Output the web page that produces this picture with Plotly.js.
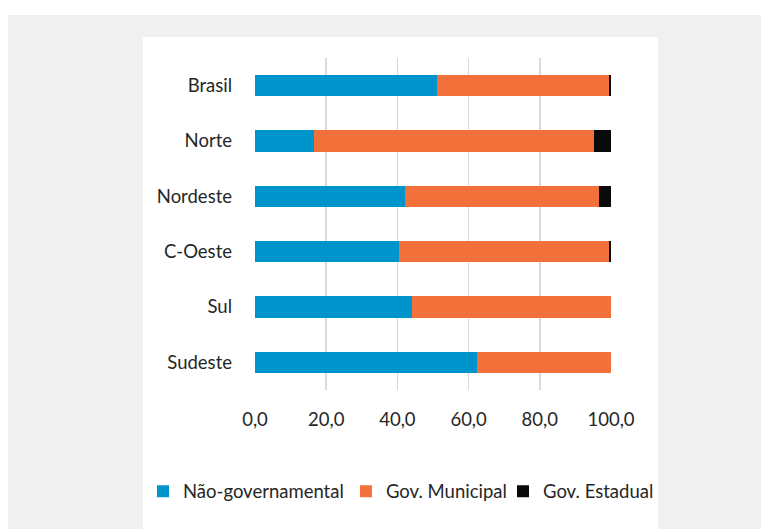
<!DOCTYPE html>
<html>
<head>
<meta charset="utf-8">
<script src="https://cdn.plot.ly/plotly-3.0.1.min.js"></script>
<style>
  html, body { margin: 0; padding: 0; background: #ffffff; width: 761px; height: 531px; overflow: hidden; }
  #bg { position: absolute; left: 8px; top: 15px; width: 753px; height: 514px; background: #f0f0f0; }
  #chart { position: absolute; left: 143px; top: 37px; width: 515px; height: 492px; background: #ffffff; }
</style>
</head>
<body>
<div id="bg"></div>
<div id="chart"></div>
<script>
const categories = ['Brasil', 'Norte', 'Nordeste', 'C-Oeste', 'Sul', 'Sudeste'];
const naoGovernamental = [51.0, 16.6, 42.1, 40.5, 44.0, 62.4];
const govMunicipal     = [48.5, 78.7, 54.5, 59.0, 56.0, 37.6];
const govEstadual      = [0.5, 4.7, 3.4, 0.5, 0.0, 0.0];
const seriesNames = ['Não-governamental', 'Gov. Municipal', 'Gov. Estadual'];
const xTickValues = [0, 20, 40, 60, 80, 100];

const colors = ['#0094cd', '#f2703a', '#0a0a0a'];
const seriesValues = [naoGovernamental, govMunicipal, govEstadual];
const legendIds = ['legend', 'legend2', 'legend3'];

const traces = seriesValues.map((vals, i) => ({
  type: 'bar',
  orientation: 'h',
  name: seriesNames[i],
  legend: legendIds[i],
  y: categories,
  x: vals,
  marker: { color: colors[i], line: { width: 0 } },
  hoverinfo: 'x+y+name'
}));

const fontFamily = 'Lato, "Open Sans", sans-serif';
const textColor = '#262626';
const fontSize = 18.5;

function legendAt(xc) {
  return {
    orientation: 'h',
    xref: 'container',
    x: xc,
    xanchor: 'left',
    yref: 'container',
    y: 0.076,
    yanchor: 'middle',
    bgcolor: 'rgba(0,0,0,0)',
    borderwidth: 0,
    font: { family: fontFamily, size: fontSize, color: textColor },
    itemwidth: 30
  };
}

const layout = {
  width: 515,
  height: 492,
  margin: { l: 112, r: 47, t: 21, b: 139 },
  paper_bgcolor: '#ffffff',
  plot_bgcolor: '#ffffff',
  barmode: 'stack',
  bargap: 0.62,
  separators: ',.',
  font: { family: fontFamily, size: fontSize, color: textColor },
  showlegend: true,
  legend: legendAt(0.0),
  legend2: legendAt(0.394),
  legend3: legendAt(0.699),
  xaxis: {
    range: [0, 100],
    tickvals: xTickValues,
    tickformat: '.1f',
    showgrid: true,
    gridcolor: '#d9d9d9',
    gridwidth: 1.5,
    zeroline: false,
    showline: false,
    ticks: '',
    ticklabelstandoff: 16,
    tickfont: { family: fontFamily, size: fontSize, color: textColor },
    fixedrange: true
  },
  yaxis: {
    type: 'category',
    autorange: 'reversed',
    showgrid: false,
    zeroline: false,
    showline: false,
    ticks: '',
    ticklabelstandoff: 22,
    tickfont: { family: fontFamily, size: fontSize, color: textColor },
    fixedrange: true
  }
};

Plotly.newPlot('chart', traces, layout, { displayModeBar: false, staticPlot: true });
</script>
</body>
</html>
